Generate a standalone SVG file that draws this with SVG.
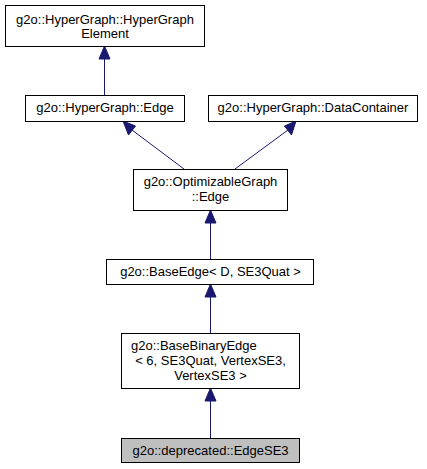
<svg xmlns="http://www.w3.org/2000/svg" width="427" height="469" viewBox="0 0 427 469">
<style>
.n rect{fill:#fff;stroke:#000;stroke-width:1}
.n.cur rect{fill:#bfbfbf}
text{font-family:"Liberation Sans",Arial,sans-serif;font-size:13px;fill:#000;text-anchor:middle}
.e{stroke:#191970;stroke-width:1;fill:none}
.h{fill:#191970;stroke:#191970}
</style>
<rect width="427" height="469" fill="#fff"/>
<g id="edges">
<path class="e" d="M104.5,59V95"/><polygon class="h" points="104.5,46 99,59 110,59"/>
<path class="e" d="M184,169L132,130"/><polygon class="h" points="123,121 128.5,135 135.5,126"/>
<path class="e" d="M235,169L288,130"/><polygon class="h" points="296,121 284.5,126 291.5,135"/>
<path class="e" d="M210.5,223V259"/><polygon class="h" points="210.5,210 205,223 216,223"/>
<path class="e" d="M210.5,297V333"/><polygon class="h" points="210.5,284 205,297 216,297"/>
<path class="e" d="M210.5,401V438"/><polygon class="h" points="210.5,388 205,401 216,401"/>
</g>
<g id="n1" class="n"><rect x="5.5" y="5.5" width="199" height="41"/><text x="105" y="24">g2o::HyperGraph::HyperGraph</text><text x="105" y="38">Element</text></g>
<g id="n2" class="n"><rect x="25.5" y="95.5" width="159" height="26"/><text x="105" y="112">g2o::HyperGraph::Edge</text></g>
<g id="n3" class="n"><rect x="208.5" y="95.5" width="209" height="26"/><text x="313" y="112">g2o::HyperGraph::DataContainer</text></g>
<g id="n4" class="n"><rect x="133.5" y="169.5" width="154" height="41"/><text x="210.5" y="186">g2o::OptimizableGraph</text><text x="210.5" y="201">::Edge</text></g>
<g id="n5" class="n"><rect x="106.5" y="259.5" width="207" height="25"/><text x="210.5" y="276">g2o::BaseEdge&lt; D, SE3Quat &gt;</text></g>
<g id="n6" class="n"><rect x="121.5" y="333.5" width="178" height="55"/><text x="131" y="350" style="text-anchor:start">g2o::BaseBinaryEdge</text><text x="210.5" y="365">&lt; 6, SE3Quat, VertexSE3,</text><text x="210.5" y="380">VertexSE3 &gt;</text></g>
<g id="n7" class="n cur"><rect x="121.5" y="438.5" width="178" height="24"/><text x="210.5" y="455">g2o::deprecated::EdgeSE3</text></g>
</svg>
